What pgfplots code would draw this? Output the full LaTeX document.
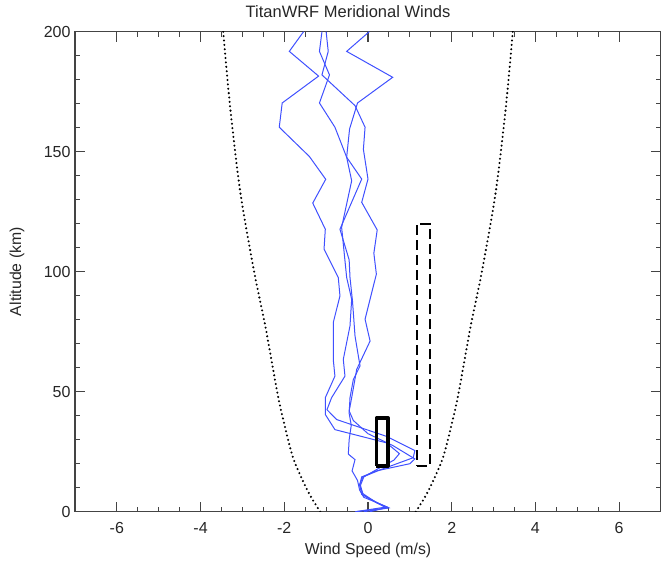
\documentclass[border=0pt]{standalone}
\usepackage{fontspec}
\setmainfont{Liberation Sans}
\usepackage{pgfplots}
\pgfplotsset{compat=1.18}
\definecolor{wind}{HTML}{3F50FF}
\definecolor{axisgray}{HTML}{444444}

\begin{document}
\begin{tikzpicture}
\useasboundingbox (-75pt,-51.3pt) rectangle (586pt,511.7pt);
\begin{axis}[
  scale only axis, width=586pt, height=480pt,
  xmin=-7, xmax=7, ymin=0, ymax=200,
  xtick={-6,-4,...,6}, ytick={0,50,...,200},
  minor x tick num=3, minor y tick num=4,
  tick align=inside, major tick length=10pt, minor tick length=5pt,
  axis line style={axisgray, line width=1.1pt},
  tick style={axisgray, line width=1.1pt},
  /pgf/number format/assume math mode=true,
  tick label style={font=\fontsize{16}{19}\selectfont, text=black!85},
  xticklabel style={yshift=-7pt},
  yticklabel style={xshift=-1pt},
  xlabel={Wind Speed (m/s)}, ylabel={Altitude (km)},
  every axis x label/.style={at={(axis description cs:0.5,-0.08)}, anchor=center,
    font=\fontsize{15.8}{19}\selectfont, text=black!85},
  every axis y label/.style={at={(axis description cs:-0.099,0.5)}, rotate=90, anchor=center,
    font=\fontsize{15.8}{19}\selectfont, text=black!85},
  title={TitanWRF Meridional Winds},
  title style={at={(axis description cs:0.466,1)}, anchor=base, yshift=8.5pt,
    font=\fontsize{16.5}{19}\selectfont, text=black!85},
  clip=true,
]
% dotted envelopes
\addplot[black, line width=2.3pt, line cap=round, dash pattern=on 0pt off 4.4pt, smooth]
  coordinates {(-1.14,0) (-1.42,8) (-1.78,22) (-2.02,38) (-2.17,50) (-2.45,77) (-2.72,100) (-3.05,133) (-3.29,168) (-3.46,200)};
\addplot[black, line width=2.3pt, line cap=round, dash pattern=on 0pt off 4.4pt, smooth]
  coordinates {(1.14,0) (1.42,8) (1.78,22) (2.02,38) (2.17,50) (2.45,77) (2.72,100) (3.05,133) (3.29,168) (3.46,200)};
% model profiles
\addplot[wind, line width=1pt] coordinates {
  (-0.30,0) (0.45,1.5) (0.22,3.6) (-0.12,7) (-0.18,11) (-0.10,14.5) (0.25,18) (0.62,21.5) (0.75,24.2)
  (0.44,28.7) (-0.79,34.2) (-1.02,40.5) (-1.02,47.5) (-0.79,56.5) (-0.83,63.5) (-0.83,78.8) (-0.67,89.9)
  (-0.71,97.6) (-1.05,109.4) (-1.02,117.7) (-1.32,128.6) (-1.01,138.5) (-1.40,148) (-2.12,160.2)
  (-2.05,170.3) (-1.18,181.5) (-1.88,191.8) (-1.54,200)};
\addplot[wind, line width=1pt] coordinates {
  (-0.10,0) (0.50,1.6) (0.25,3.5) (-0.15,7.2) (-0.20,11.3) (-0.12,14.5) (0.30,17.5) (1.08,22.5) (1.12,25.5)
  (0.44,31.4) (-0.75,38.4) (-0.98,42.5) (-0.87,47.5) (-0.55,56.5) (-0.59,63.5) (-0.43,77.4) (-0.39,88.5)
  (-0.51,97.6) (-0.63,118.5) (-0.39,137.9) (-0.51,147.7) (-0.79,160.2) (-1.16,170.3) (-0.92,182)
  (-1.16,191.8) (-1.10,200)};
\addplot[wind, line width=1pt] coordinates {
  (-0.30,0) (0.45,2) (0.20,3.8) (-0.12,7.5) (-0.20,11) (-0.15,14.5) (0.20,17) (1.00,20) (1.12,22)
  (0.60,27.5) (0.00,32.5) (-0.35,38) (-0.45,42) (-0.39,47.5) (-0.27,59.3) (0.05,71.1) (-0.07,80.2)
  (0.20,99) (0.14,107.7) (0.22,117.4) (-0.15,128.9) (0.00,138.6) (-0.11,151) (-0.07,160.2)
  (-0.31,169.2) (-1.10,182) (-0.95,191.8) (-1.00,200)};
\addplot[wind, line width=1pt] coordinates {
  (0.05,0) (0.45,1.8) (0.25,3.5) (-0.10,6) (-0.20,9) (-0.25,13) (-0.38,17) (-0.31,21.7) (-0.47,24)
  (-0.45,30) (-0.40,36) (-0.45,41) (-0.43,47.5) (-0.35,55.1) (-0.19,60.7) (-0.31,73.2) (-0.37,87.7)
  (-0.43,97.6) (-0.45,104.9) (-0.67,117.7) (-0.15,138.6) (-0.51,147.7) (-0.44,159.5) (-0.25,170.3)
  (0.59,181) (-0.51,191.8) (0.03,200)};
% observation boxes
\addplot[black, line width=3.5pt, line join=round] coordinates {(0.20,19) (0.48,19) (0.48,39) (0.20,39) (0.20,19)};
\addplot[black, line width=2pt, dash pattern=on 10pt off 5pt] coordinates {(1.17,19) (1.48,19) (1.48,120) (1.17,120) (1.17,19)};
\end{axis}
\end{tikzpicture}
\end{document}
